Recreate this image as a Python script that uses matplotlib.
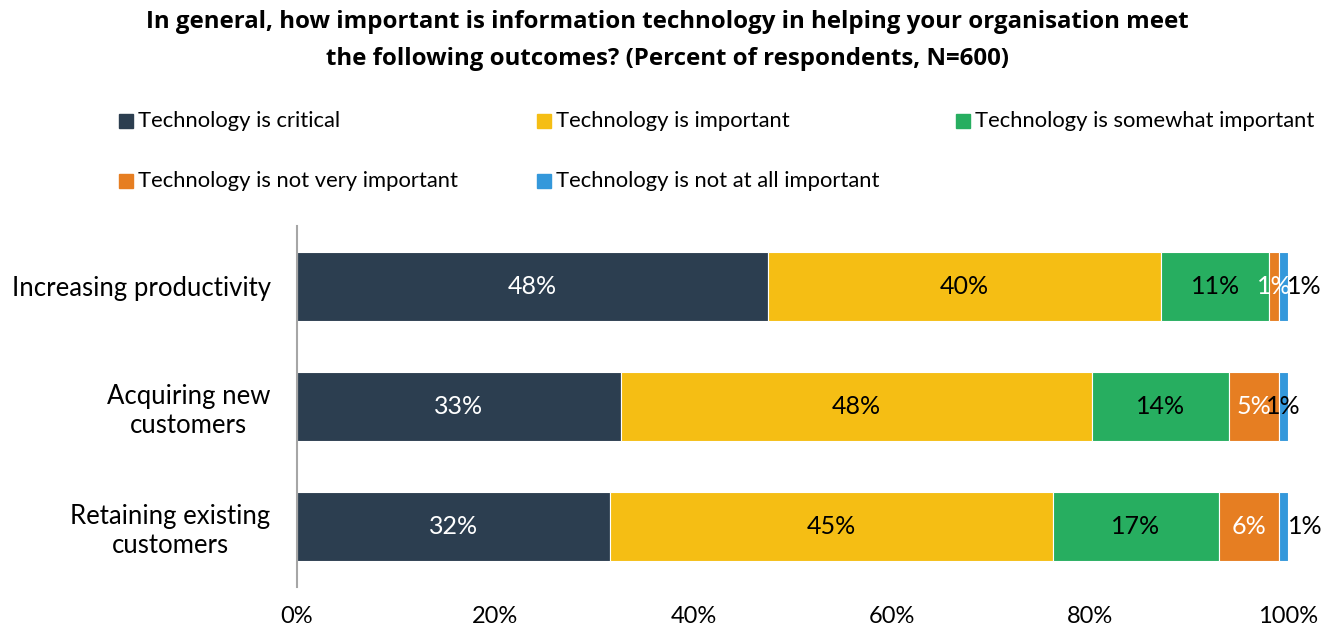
import matplotlib
matplotlib.use("Agg")
import matplotlib.pyplot as plt
from matplotlib.patches import Rectangle
import numpy as np

plt.rcParams['font.family'] = ['Lato', 'DejaVu Sans']

categories = ["Increasing productivity", "Acquiring new\ncustomers", "Retaining existing\ncustomers"]
series_names = ["Technology is critical", "Technology is important",
                "Technology is somewhat important", "Technology is not very important",
                "Technology is not at all important"]
critical = [47.5, 32.7, 31.6]
important = [39.7, 47.5, 44.7]
somewhat = [10.9, 13.8, 16.7]
not_very = [1.0, 5.1, 6.1]
not_at_all = [0.9, 0.9, 0.9]
label_critical = ["48%", "33%", "32%"]
label_important = ["40%", "48%", "45%"]
label_somewhat = ["11%", "14%", "17%"]
label_not_very = ["1%", "5%", "6%"]
label_not_at_all = ["1%", "1%", "1%"]
xticks = [0, 20, 40, 60, 80, 100]
xticklabels = ["0%", "20%", "40%", "60%", "80%", "100%"]

colors = ["#2C3E50", "#F5BE14", "#27AE60", "#E67E22", "#3498DB"]
text_colors = ["white", "black", "black", "white", "black"]
blue_offsets_pt = [15, 0, 16]

series = [critical, important, somewhat, not_very, not_at_all]
labels = [label_critical, label_important, label_somewhat, label_not_very, label_not_at_all]

fig = plt.figure(figsize=(13.35, 6.32), dpi=100)
ax = fig.add_axes([297/1335, 1-587/632, (1288-297)/1335, (587-226)/632])

y = np.arange(len(categories))
left = np.zeros(len(categories))
for si, vals in enumerate(series):
    vals = np.array(vals)
    ax.barh(y, vals, left=left, height=0.575, color=colors[si], edgecolor="white", linewidth=0.8)
    for i in range(len(categories)):
        cx = left[i] + vals[i] / 2
        dx = blue_offsets_pt[i] if si == 4 else 0
        ax.annotate(labels[si][i], (cx, y[i]), xytext=(dx, 0), textcoords="offset points",
                    ha="center", va="center", fontsize=18, color=text_colors[si])
    left = left + vals

ax.set_xlim(0, 100)
ax.set_ylim(2.5, -0.5)
ax.set_yticks(y)
ax.set_yticklabels(categories, fontsize=18.5, ha="right", multialignment="center", linespacing=1.2)
ax.tick_params(axis="y", length=0, pad=19)
ax.set_xticks(xticks)
ax.set_xticklabels(xticklabels, fontsize=17)
ax.tick_params(axis="x", length=0, pad=14)
for s in ["top", "right", "bottom"]:
    ax.spines[s].set_visible(False)
ax.spines["left"].set_color("#A6A6A6")
ax.spines["left"].set_linewidth(1.5)

title_font = dict(ha="center", va="center", fontsize=17.3, fontweight="bold",
                  family=["Open Sans", "DejaVu Sans"])
fig.text(0.5, 1-22/632, "In general, how important is information technology in helping your organisation meet",
         **title_font)
fig.text(0.5, 1-59/632, "the following outcomes? (Percent of respondents, N=600)", **title_font)

leg_pos = [(119, 121), (537, 121), (956, 121), (119, 181), (537, 181)]
for (px, py), name, c in zip(leg_pos, series_names, colors):
    fig.patches.append(Rectangle((px/1335, 1-(py+7)/632), 14/1335, 14/632,
                                 transform=fig.transFigure, color=c))
    fig.text((px+19)/1335, 1-py/632, name, ha="left", va="center", fontsize=15.8)

fig.savefig("out.png", dpi=100)
